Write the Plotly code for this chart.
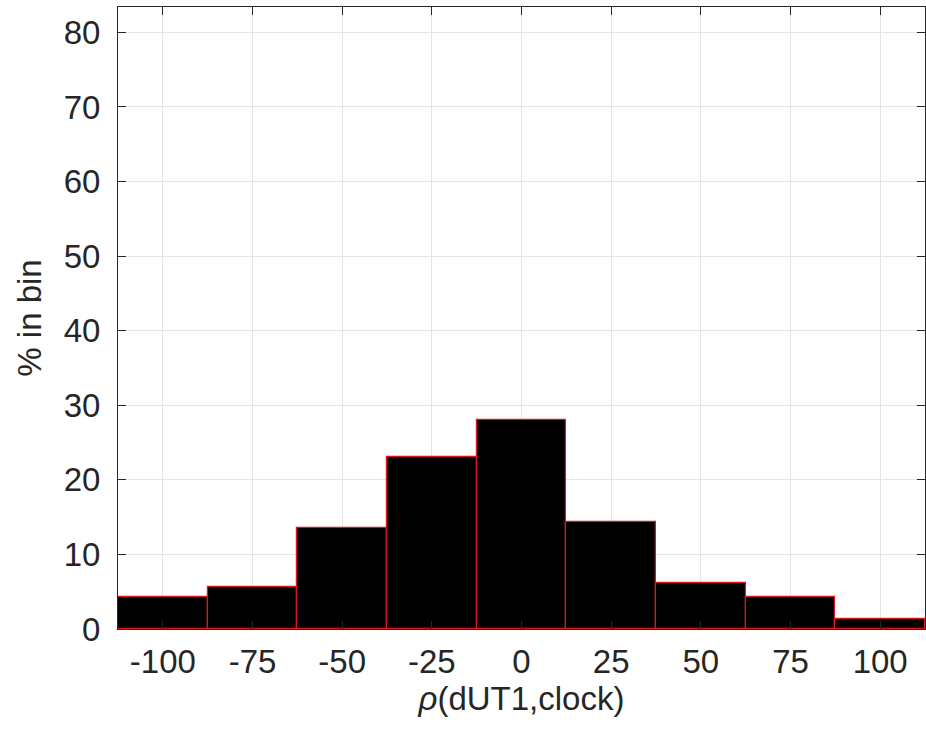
import plotly.graph_objects as go

bin_centers = [-100, -75, -50, -25, 0, 25, 50, 75, 100]
pct_in_bin = [4.3, 5.6, 13.6, 23.0, 28.0, 14.3, 6.2, 4.3, 1.4]
bin_width = 25
x_ticks = [-100, -75, -50, -25, 0, 25, 50, 75, 100]
y_ticks = [0, 10, 20, 30, 40, 50, 60, 70, 80]

FONT = "Liberation Sans, Arial, Helvetica, sans-serif"
TXT = "#262626"
FS = 33

fig = go.Figure(go.Bar(
    x=bin_centers, y=pct_in_bin, width=bin_width,
    marker=dict(color="black", line=dict(color="#e0141e", width=1.2)),
))

fig.update_layout(
    width=926, height=731,
    margin=dict(l=118, r=1, t=7, b=102),
    paper_bgcolor="white", plot_bgcolor="white",
    font=dict(family=FONT, size=FS, color=TXT),
    bargap=0, showlegend=False,
)
axis_common = dict(
    showline=True, linecolor=TXT, linewidth=1, mirror="ticks",
    ticks="inside", ticklen=8, tickcolor=TXT, tickwidth=1,
    showgrid=True, gridcolor="#e4e4e4", gridwidth=1, zeroline=False,
    tickfont=dict(family=FONT, size=FS, color=TXT),
    automargin=False,
)
fig.update_xaxes(
    range=[-112.5, 112.5], tickvals=x_ticks, ticktext=[str(v) for v in x_ticks],
    ticklabelstandoff=3,
    title=dict(text="<i>ρ</i>(dUT1,clock)", standoff=4, font=dict(family=FONT, size=FS, color=TXT)),
    **axis_common,
)
fig.update_yaxes(
    range=[0, 83.4], tickvals=y_ticks, ticktext=[str(v) for v in y_ticks],
    ticklabelstandoff=10,
    title=dict(text="% in bin", standoff=12, font=dict(family=FONT, size=FS, color=TXT)),
    **axis_common,
)

fig.write_html("out.html", config={"displayModeBar": False})

# remove default page margin so the figure sits at the window origin
with open("out.html", "r", encoding="utf-8") as f:
    html = f.read()
html = html.replace("<head>", "<head><style>html,body{margin:0;padding:0;overflow:hidden;}</style>", 1)
with open("out.html", "w", encoding="utf-8") as f:
    f.write(html)
